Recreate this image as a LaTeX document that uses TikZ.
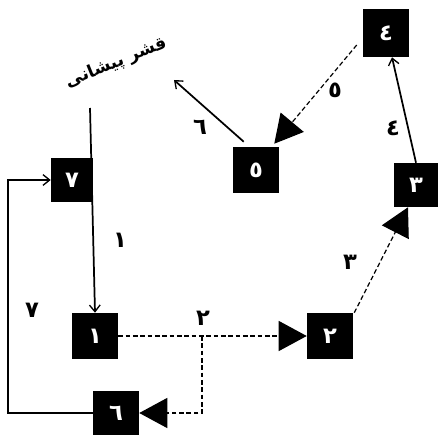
\documentclass[tikz,border=0pt]{standalone}
\usepackage{fontspec}
\newfontfamily\arabicfont[Script=Arabic]{DejaVu Sans}
\TeXXeTstate=1
\usetikzlibrary{arrows.meta,calc}
\begin{document}
\begin{tikzpicture}[x=0.75pt,y=-0.75pt,
  box/.style={fill=black,text=white,inner sep=0pt,minimum width=34.5pt,minimum height=34.5pt,font=\arabicfont\bfseries\fontsize{17}{19}\selectfont},
  lbl/.style={font=\arabicfont\bfseries\fontsize{17}{19}\selectfont,inner sep=0pt},
  solidarr/.style={line width=1.3pt,-{Straight Barb[length=5pt,width=8pt,line width=1pt]}},
  plainline/.style={line width=1.3pt},
  dasharr/.style={line width=0.9pt,dash pattern=on 3.5pt off 2pt,-{Triangle[length=21pt,width=22.5pt]}},
  dashline/.style={line width=0.9pt,dash pattern=on 3.5pt off 2pt}]
\useasboundingbox (0,0) rectangle (439,435);
% boxes
\node[box,minimum width=31.5pt,minimum height=33pt] (b7) at (72,180) {\beginR ٧\endR};
\node[box,minimum height=36pt] (b4) at (386,33) {\beginR ٤\endR};
\node[box] (b5) at (256,170) {\beginR ٥\endR};
\node[box,minimum width=33.5pt,minimum height=33pt] (b3) at (416,185) {\beginR ٣\endR};
\node[box] (b1) at (95,336) {\beginR ١\endR};
\node[box] (b2) at (330,336) {\beginR ٢\endR};
\node[box,minimum height=33pt] (b6) at (116,413) {\beginR ٦\endR};
% title
\node[lbl,rotate=22,font=\arabicfont\bfseries\fontsize{13}{15}\selectfont] (title) at (116,63) {\beginR قشر پیشانی\endR};
% coordinates
\coordinate (s1) at (90,108);
\coordinate (br) at (202,336);
\coordinate (e6) at (174,80);
% connectors
\draw[solidarr] (s1) -- (b1.north);
\draw[plainline,-{Straight Barb[length=5pt,width=8pt,line width=1pt]}] (b6.west) -- ++(-85,0) |- (b7.west);
\draw[dasharr] (b1.east) -- (b2.west);
\draw[dasharr] (br) |- (b6.east);
\draw[dasharr] ($(b2.north east)+(1,0)$) -- ($(b3.south)+(-8,0)$);
\draw[solidarr] (b3.north) -- ($(b4.south)+(6,0)$);
\draw[dasharr] ($(b4.west)+(-6,12)$) -- ($(b5.north east)+(-5,-3)$);
\draw[solidarr] ($(b5.north west)+(11,-5)$) -- (e6);
% labels
\node[lbl] (l1) at (120,240) {\beginR ١\endR};
\node[lbl] (l7) at (32,310) {\beginR ٧\endR};
\node[lbl] (l2) at (203,318) {\beginR ٢\endR};
\node[lbl] (l3) at (350,262) {\beginR ٣\endR};
\node[lbl] (l4) at (393,128) {\beginR ٤\endR};
\node[lbl] (l5) at (335,90) {\beginR ٥\endR};
\node[lbl] (l6) at (200,127) {\beginR ٦\endR};
\end{tikzpicture}
\end{document}
